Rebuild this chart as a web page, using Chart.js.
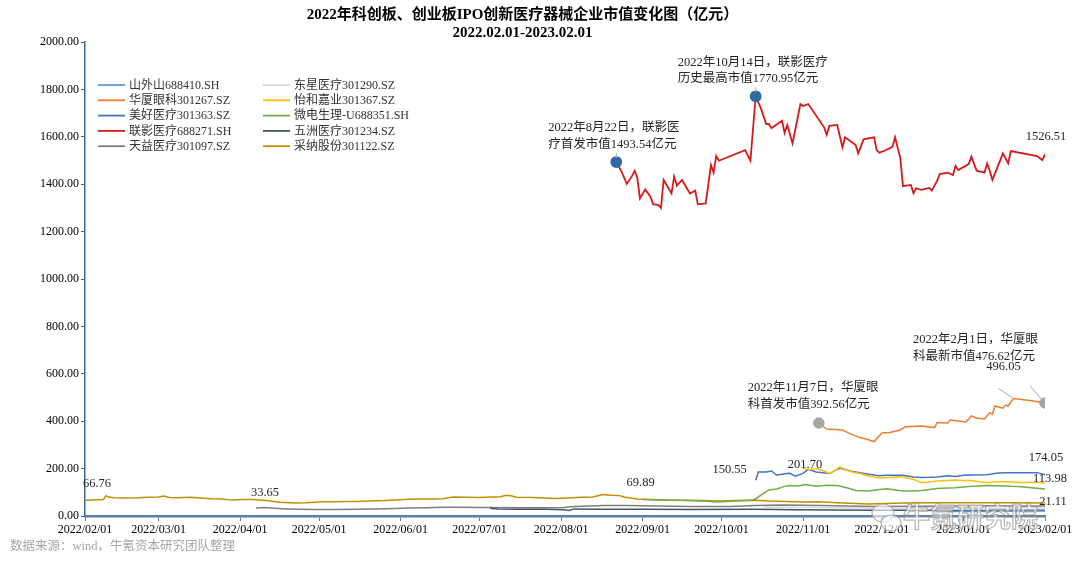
<!DOCTYPE html>
<html><head><meta charset="utf-8">
<script src="https://cdn.jsdelivr.net/npm/chart.js@4.4.1/dist/chart.umd.min.js"></script>
<style>html,body{margin:0;padding:0;background:#fff}#wrap{width:1080px;height:562px;position:relative}</style>
</head><body><div id="wrap"><canvas id="c"></canvas></div>
<script>
// ---- axis / tick data (x = days since 2022-02-01) ----
const monthDays = [0,28,59,89,120,150,181,212,242,273,303,334,365];
const monthLabels = ['2022/02/01','2022/03/01','2022/04/01','2022/05/01','2022/06/01','2022/07/01','2022/08/01','2022/09/01','2022/10/01','2022/11/01','2022/12/01','2023/01/01','2023/02/01'];
const titleLines = ['2022年科创板、创业板IPO创新医疗器械企业市值变化图（亿元）','2022.02.01-2023.02.01'];
const sourceText = '数据来源：wind，牛氪资本研究团队整理';
const watermarkText = '牛氪研究院';

// ---- series ----
const seriesNames = ['山外山688410.SH','东星医疗301290.SZ','华厦眼科301267.SZ','怡和嘉业301367.SZ','美好医疗301363.SZ','微电生理-U688351.SH','联影医疗688271.SH','五洲医疗301234.SZ','天益医疗301097.SZ','采纳股份301122.SZ'];

const swsDays = [328,331,335,340,345,350,355,360,365];
const swsVals = [18,19,20,19,19,20,20,21,21.11];

const dxDays = [258,262,268,275,285,295,305,315,325,335,345,355,365];
const dxVals = [38,37,36,36,35,34,33,33,34,35,35,34,34];

const hxDays = [279,282,288,290,294,297,300,303,306,310,312,318,323,324,328,329,335,337,339,342,344,345,346,349,350,351,353,360,365];
const hxVals = [392.56,367,363,352,333,325,314,350,352,363,377,380,373,394,392,405,397,422,413,409,436,430,464,455,468,464,496.05,486,476.62];

const yhDays = [273,275,278,281,283,285,287,289,291,295,298,302,305,308,311,315,318,321,324,328,331,334,337,340,343,347,350,353,356,360,365];
const yhVals = [201.70,195,200,190,180,190,207,196,188,178,169,160,162,165,165,155,141,143,148,150,152,150,150,145,141,145,145,143,141,141,140];

const mhDays = [255,256,259,261,263,266,268,270,273,275,278,283,287,291,295,298,302,305,311,315,318,321,324,328,331,334,337,343,347,350,356,362,365];
const mhVals = [150.55,186,186,190,172,178,180,168,180,197,186,179,202,190,182,176,170,172,172,165,162,163,165,170,167,172,173,174,181,183,182,183,174.05];

const wdDays = [212,218,225,235,240,246,253,255,258,260,263,266,268,271,274,278,282,286,290,293,298,302,305,308,311,315,318,321,324,328,331,334,337,340,343,347,350,353,356,360,365];
const wdVals = [69.89,67,66,63,59,62,66,73,95,110,114,125,129,127,133,126,130,129,118,108,106,112,115,110,105,106,108,112,116,118,119,122,125,127,129,128,127,125,123,119,113.98];

const lyDays = [202,204,206,208,209,210,211,213,215,216,218,219,220,223,224,225,227,229,230,232,233,236,238,239,240,241,251,253,255,257,259,260,261,265,266,267,269,272,273,275,281,282,283,286,288,289,293,294,296,300,301,302,304,307,308,310,311,314,315,316,318,321,322,324,325,328,330,331,332,336,337,339,342,343,344,345,349,351,352,362,364,365];
const lyVals = [1493.54,1453,1401,1435,1457,1426,1340,1378,1347,1316,1312,1300,1418,1361,1432,1394,1418,1380,1361,1373,1315,1319,1481,1449,1519,1499,1544,1499,1770.95,1720,1654,1654,1636,1668,1617,1650,1572,1738,1730,1738,1640,1608,1646,1650,1556,1598,1565,1530,1589,1598,1544,1533,1541,1558,1598,1509,1392,1397,1362,1383,1376,1384,1373,1415,1443,1449,1439,1477,1460,1485,1516,1457,1449,1488,1457,1418,1530,1488,1540,1519,1502,1526.51];

const wzDays = [154,157,165,175,182,184,186,195,205,212,230,255,270,285,300,315,330,345,355,365];
const wzVals = [33,30,28,28,26,23,30,29,28,28,27,28,26,25,24,24,23,23,24,24];

const tyDays = [65,68,72,77,82,87,95,103,110,118,123,130,136,142,150,155,165,175,182,186,192,197,205,212,230,245,255,265,280,300,320,340,355,365];
const tyVals = [33.65,36,33,30,28,27,27,28,30,32,34,35,37,37,36,36,35,35,36,40,42,44,44,43,40,40,44,46,44,40,41,43,42,42];

const cnDays = [0,3,7,8,9,11,15,20,24,28,30,32,35,40,44,48,52,56,60,64,66,69,74,80,84,90,95,100,103,108,114,118,123,128,133,136,140,145,150,155,158,160,162,164,170,175,179,183,189,193,197,200,203,205,210,215,222,235,241,248,255,260,273,279,286,298,311,324,337,350,365];
const cnVals = [66.76,68,70,86,80,77,76,77,79,80,84,78,77,79,76,73,72,67,70,70,68,65,58,55,56,60,60,61,61,63,65,68,71,72,72,73,80,79,78,80,81,87,85,79,78,76,74,76,79,80,91,88,87,80,72,70,67,65,63,65,66,63,59,60,56,51,55,56,56,56,55];

// value labels / annotations anchored on data values
const valueNotes = [
  {lines:['66.76'], day:0, val:66.76},
  {lines:['33.65'], day:65, val:33.65},
  {lines:['69.89'], day:212, val:69.89},
  {lines:['150.55'], day:255, val:150.55},
  {lines:['201.70'], day:273, val:201.70},
  {lines:['174.05'], day:365, val:174.05},
  {lines:['113.98'], day:365, val:113.98},
  {lines:['21.11'], day:365, val:21.11},
  {lines:['1526.51'], day:365, val:1526.51},
  {lines:['496.05'], day:353, val:496.05},
  {lines:['2022年2月1日，华厦眼','科最新市值476.62亿元'], day:365, val:476.62},
  {lines:['2022年11月7日，华厦眼','科首发市值392.56亿元'], day:279, val:392.56},
  {lines:['2022年8月22日，联影医','疗首发市值1493.54亿元'], day:202, val:1493.54},
  {lines:['2022年10月14日，联影医疗','历史最高市值1770.95亿元'], day:255, val:1770.95}
];
// label placement (pixel offsets from anchor), kept apart from data
const notePlace = [
  {dx:12,dy:-16,align:'center'},
  {dx:9,dy:-15,align:'center'},
  {dx:-2,dy:-17,align:'center'},
  {dx:-26,dy:-11,align:'center'},
  {dx:2,dy:-3,align:'center'},
  {dx:1,dy:-17,align:'center'},
  {dx:5,dy:-10,align:'center'},
  {dx:8,dy:-9,align:'center'},
  {dx:1,dy:-17,align:'center'},
  {dx:-10,dy:-32,align:'center',lead:[-15,-10]},
  {dx:-132,dy:-63,align:'left',lead:[-15,-17]},
  {dx:-71,dy:-35,align:'left'},
  {dx:-68,dy:-34,align:'left',lead:[0,-9]},
  {dx:-78,dy:-34,align:'left',lead:[0,-9]}
];

const SERIF = "'Liberation Serif','Times New Roman','Noto Sans CJK SC',serif";
const colors = ['#5b9bd5','#d9d9d9','#ed7d31','#ffc000','#4472c4','#70ad47','#d7191c','#44546a','#7f7f7f','#bf9000'];
const pts = (d,v) => d.map((x,i)=>({x:x,y:v[i]}));
const allData = [pts(swsDays,swsVals),pts(dxDays,dxVals),pts(hxDays,hxVals),pts(yhDays,yhVals),pts(mhDays,mhVals),pts(wdDays,wdVals),pts(lyDays,lyVals),pts(wzDays,wzVals),pts(tyDays,tyVals),pts(cnDays,cnVals)];
const lyMax = Math.max(...lyVals);

const datasets = allData.map((data,i)=>{
  const ds = {label:seriesNames[i], data:data, borderColor:colors[i], backgroundColor:colors[i], borderWidth: i===6?1.8:1.5, pointRadius:0, tension:0, fill:false};
  if (i===6) {
    ds.pointRadius = c => (c.dataIndex===0 || (c.raw && c.raw.y===lyMax)) ? 5 : 0;
    ds.pointBackgroundColor = '#2e6aa5'; ds.pointBorderColor = '#2e6aa5';
  }
  if (i===2) {
    ds.pointRadius = c => (c.dataIndex===0 || c.dataIndex===hxVals.length-1) ? 5 : 0;
    ds.pointBackgroundColor = '#a6a6a6'; ds.pointBorderColor = '#a6a6a6';
  }
  return ds;
});

const decor = {
  id:'decor',
  afterDraw(chart){
    const ctx = chart.ctx, ca = chart.chartArea, xs = chart.scales.x, ys = chart.scales.y;
    ctx.save();
    // legend
    ctx.font = '12px ' + SERIF; ctx.textBaseline = 'middle'; ctx.textAlign = 'left';
    chart.data.datasets.forEach((ds,i)=>{
      const col = i%2, row = Math.floor(i/2);
      const x0 = ca.left + (col===0 ? 13 : 178);
      const y0 = ca.top + 43 + row*15.3;
      ctx.strokeStyle = ds.borderColor; ctx.lineWidth = 1.8;
      ctx.beginPath(); ctx.moveTo(x0,y0); ctx.lineTo(x0+27,y0); ctx.stroke();
      ctx.fillStyle = '#333'; ctx.fillText(ds.label, x0+31, y0+0.5);
    });
    // annotations
    ctx.font = '12.5px ' + SERIF; ctx.fillStyle = '#262626';
    valueNotes.forEach((n,k)=>{
      const p = notePlace[k];
      const ax = xs.getPixelForValue(n.day), ay = ys.getPixelForValue(n.val);
      if (p.lead) {
        ctx.strokeStyle = '#a6a6a6'; ctx.lineWidth = 1;
        ctx.beginPath(); ctx.moveTo(ax+p.lead[0], ay+p.lead[1]); ctx.lineTo(ax, ay - (p.lead[0]===0?4:0)); ctx.stroke();
      }
      ctx.textAlign = p.align;
      n.lines.forEach((t,j)=> ctx.fillText(t, ax+p.dx, ay+p.dy + j*16.5));
    });
    // source
    ctx.font = '12.5px ' + SERIF; ctx.fillStyle = '#a6a6a6'; ctx.textAlign='left';
    ctx.fillText(sourceText, 10, ca.bottom + 31);
    // watermark
    const wx = ca.right - 142, wy = ca.bottom + 1;
    ctx.font = 'bold 27px "Noto Sans CJK SC"';
    ctx.lineWidth = 1.2; ctx.strokeStyle = 'rgba(150,150,150,0.7)';
    ctx.fillStyle = 'rgba(255,255,255,0.6)';
    ctx.fillText(watermarkText, wx, wy); ctx.strokeText(watermarkText, wx, wy);
    ctx.beginPath(); ctx.ellipse(wx-20, wy-4, 11, 9, 0, 0, Math.PI*2); ctx.fillStyle='rgba(255,255,255,0.6)'; ctx.fill(); ctx.stroke();
    ctx.beginPath(); ctx.ellipse(wx-12, wy+6, 10, 8, 0, 0, Math.PI*2); ctx.fill(); ctx.stroke();
    ctx.restore();
  }
};

new Chart(document.getElementById('c'), {
  type:'line',
  data:{datasets:datasets},
  options:{
    responsive:true, maintainAspectRatio:false, animation:false, parsing:true,
    layout:{padding:{left:0,right:35,top:0,bottom:16}},
    plugins:{
      legend:{display:false}, tooltip:{enabled:false},
      title:{display:true, text:titleLines, color:'#000', font:{family:SERIF,size:15,weight:'bold',lineHeight:1.2}, padding:{top:6,bottom:0}}
    },
    scales:{
      x:{type:'linear', min:0, max:365,
        afterBuildTicks: s => { s.ticks = monthDays.map(v=>({value:v})); },
        ticks:{callback:(v,i)=>monthLabels[i], autoSkip:false, maxRotation:0, minRotation:0, font:{family:SERIF,size:12}, color:'#000', padding:2},
        grid:{drawOnChartArea:false, drawTicks:true, tickLength:5, color:'#5d80a8', lineWidth:1},
        border:{color:'#5d80a8', width:2.5},
        afterFit: s => { s.height = 30; }
      },
      y:{min:0, max:2000,
        ticks:{stepSize:200, callback:v=>Number(v).toFixed(2), font:{family:SERIF,size:12}, color:'#000', padding:2},
        grid:{drawOnChartArea:false, drawTicks:true, tickLength:4, color:'#3d6596'},
        border:{color:'#3d6596', width:1.5},
        afterFit: s => { s.width = 85; }
      }
    }
  },
  plugins:[decor]
});
</script>
</body></html>
